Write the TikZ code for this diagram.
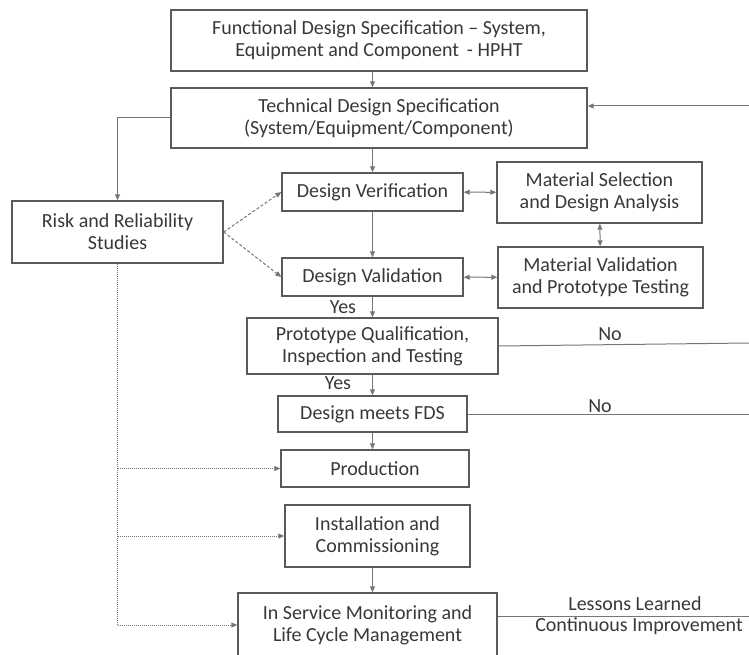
\documentclass[tikz,border=0pt]{standalone}
\usepackage{fontspec}
\setmainfont{Carlito}
\usetikzlibrary{arrows.meta}

\definecolor{txtgray}{HTML}{383838}
\definecolor{boxgray}{HTML}{5A5A5A}
\definecolor{linegray}{HTML}{767676}

\tikzstyle{block} = [rectangle, draw=boxgray, line width=1.4pt, text=txtgray, align=center, inner sep=0pt]
\tikzstyle{lbl} = [text=txtgray, inner sep=0pt]
\tikzstyle{line} = [draw=linegray, line width=1pt]
\tikzstyle{arr} = [line, -{Triangle[length=6pt,width=5pt]}]
\tikzstyle{darr} = [line, {Triangle[length=6pt,width=5pt]}-{Triangle[length=6pt,width=5pt]}]
\tikzstyle{dasharr} = [arr, densely dashed]
\tikzstyle{dotarr} = [arr, densely dotted]

\begin{document}
\begin{tikzpicture}[x=1pt, y=-1pt, font=\fontsize{20}{22}\selectfont]
		\useasboundingbox (0,0) rectangle (749,655);
		% Cajas de la columna central
		\node[block, minimum width=416, minimum height=61] (fds) at (379,40.5) {Functional Design Specification -- System,\\Equipment and Component \,- HPHT};
		\node[block, minimum width=416, minimum height=60] (tds) at (379,118) {Technical Design Specification\\(System/Equipment/Component)};
		\node[block, minimum width=181, minimum height=38] (dv) at (372.5,192) {Design Verification};
		\node[block, minimum width=181, minimum height=38] (dval) at (372.5,277) {Design Validation};
		\node[block, minimum width=251, minimum height=56] (pq) at (372.5,346) {Prototype Qualification,\\Inspection and Testing};
		\node[block, minimum width=189, minimum height=36] (dmf) at (372.5,414) {Design meets FDS};
		\node[block, minimum width=188, minimum height=37] (prod) at (375,468.5) {Production};
		\node[block, minimum width=185, minimum height=62] (inst) at (377.5,536) {Installation and\\Commissioning};
		\node[block, minimum width=259, minimum height=64] (isv) at (367.5,625) {In Service Monitoring and\\Life Cycle Management};
		% Cajas laterales
		\node[block, minimum width=211, minimum height=62] (risk) at (117.5,232) {Risk and Reliability\\Studies};
		\node[block, minimum width=205, minimum height=61] (ms) at (599.5,192.5) {Material Selection\\and Design Analysis};
		\node[block, minimum width=205, minimum height=61] (mv) at (600.5,277.5) {Material Validation\\and Prototype Testing};
		% Etiquetas
		\node[lbl] (yes1) at (343,307) {Yes};
		\node[lbl] (yes2) at (338,383) {Yes};
		\node[lbl] (no1) at (610,334) {No};
		\node[lbl] (no2) at (600,406) {No};
		\node[lbl] (lessons) at (635,604) {Lessons Learned};
		\node[lbl] (cont) at (639,626) {Continuous Improvement};
		% Bordes derechos
		\coordinate (back) at (749,106);
		\coordinate (edgeA) at (749,343);
		\coordinate (edgeB) at (749,414);
		\coordinate (edgeC) at (749,616);
		% Flechas centrales
		\draw[arr] (fds.south -| dv.north) -- (tds.north -| dv.north);
		\draw[arr] (tds.south -| dv.north) -- (dv.north);
		\draw[arr] (dv) -- (dval);
		\draw[arr] (dval) -- (pq);
		\draw[arr] (pq) -- (dmf);
		\draw[arr] (dmf.south) -- (prod.north -| dmf.south);
		\draw[arr] (inst.south -| dmf.south) -- (isv.north -| dmf.south);
		% Flechas dobles
		\draw[darr] (dv) -- (ms);
		\draw[darr] (dval) -- (mv);
		\draw[darr] (ms) -- (mv);
		% Retorno y salidas
		\draw[arr] (back) -- (back -| tds.east);
		\draw[arr] (tds.west) -| (risk.north);
		\draw[line] (pq.east) -- (edgeA);
		\draw[line] (dmf.east) -- (edgeB);
		\draw[line] (isv.east |- edgeC) -- (edgeC);
		% Riesgo
		\draw[dasharr] (risk.east) -- (dv.west);
		\draw[dasharr] (risk.east) -- (dval.west);
		\draw[dotarr] (risk.south) |- (isv.west);
		\draw[dotarr] (risk.south |- prod.west) -- (prod.west);
		\draw[dotarr] (risk.south |- inst.west) -- (inst.west);
	\end{tikzpicture}
\end{document}
